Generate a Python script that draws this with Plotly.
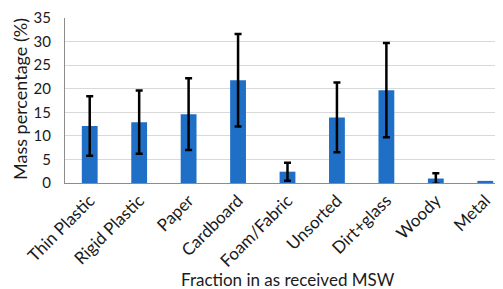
import plotly.graph_objects as go

categories = ["Thin Plastic", "Rigid Plastic", "Paper", "Cardboard", "Foam/Fabric",
              "Unsorted", "Dirt+glass", "Woody", "Metal"]
mass_pct = [12.1, 12.9, 14.6, 21.8, 2.4, 13.9, 19.7, 0.95, 0.45]
error_pct = [6.3, 6.7, 7.6, 9.8, 1.9, 7.4, 10.0, 1.1, "NaN"]
y_ticks = [0, 5, 10, 15, 20, 25, 30, 35]

FONT = "Lato"
TXT = "#1a1a1a"

fig = go.Figure()
fig.add_trace(go.Bar(
    x=categories, y=mass_pct,
    marker=dict(color="#1f6fc6", line=dict(width=0)),
    error_y=dict(type="data", array=error_pct, visible=True,
                 color="black", thickness=2.5, width=3.5),
))

fig.update_layout(
    width=503, height=289,
    margin=dict(l=57, r=1, t=10, b=114),
    paper_bgcolor="white", plot_bgcolor="white",
    bargap=0.68,
    showlegend=False,
    font=dict(family=FONT, size=17, color=TXT),
    xaxis=dict(
        automargin=False,
        tickangle=-45, showgrid=False, showline=True, linecolor="#8c8c8c",
        linewidth=1, ticks="", tickfont=dict(family=FONT, size=17, color=TXT),
    ),
    yaxis=dict(
        automargin=False,
        range=[0, 35], tickvals=y_ticks, showgrid=True, gridcolor="#d9d9d9",
        gridwidth=1, showline=True, linecolor="#8c8c8c", linewidth=1,
        zeroline=False, ticks="", ticklabeloverflow="allow",
        ticklabelstandoff=10,
        tickfont=dict(family=FONT, size=15, color=TXT),
    ),
    annotations=[
        dict(text="Fraction in as received MSW", xref="paper", yref="paper",
             x=0.5, y=-96 / 165, xanchor="center", yanchor="middle",
             showarrow=False, font=dict(family=FONT, size=17, color=TXT)),
        dict(text="Mass percentage (%)", xref="paper", yref="paper",
             x=(12 - 57) / 445, y=(175 - 91) / 165, xanchor="center",
             yanchor="middle", textangle=-90, showarrow=False,
             font=dict(family=FONT, size=18, color=TXT)),
    ],
)

fig.write_html("out.html")
